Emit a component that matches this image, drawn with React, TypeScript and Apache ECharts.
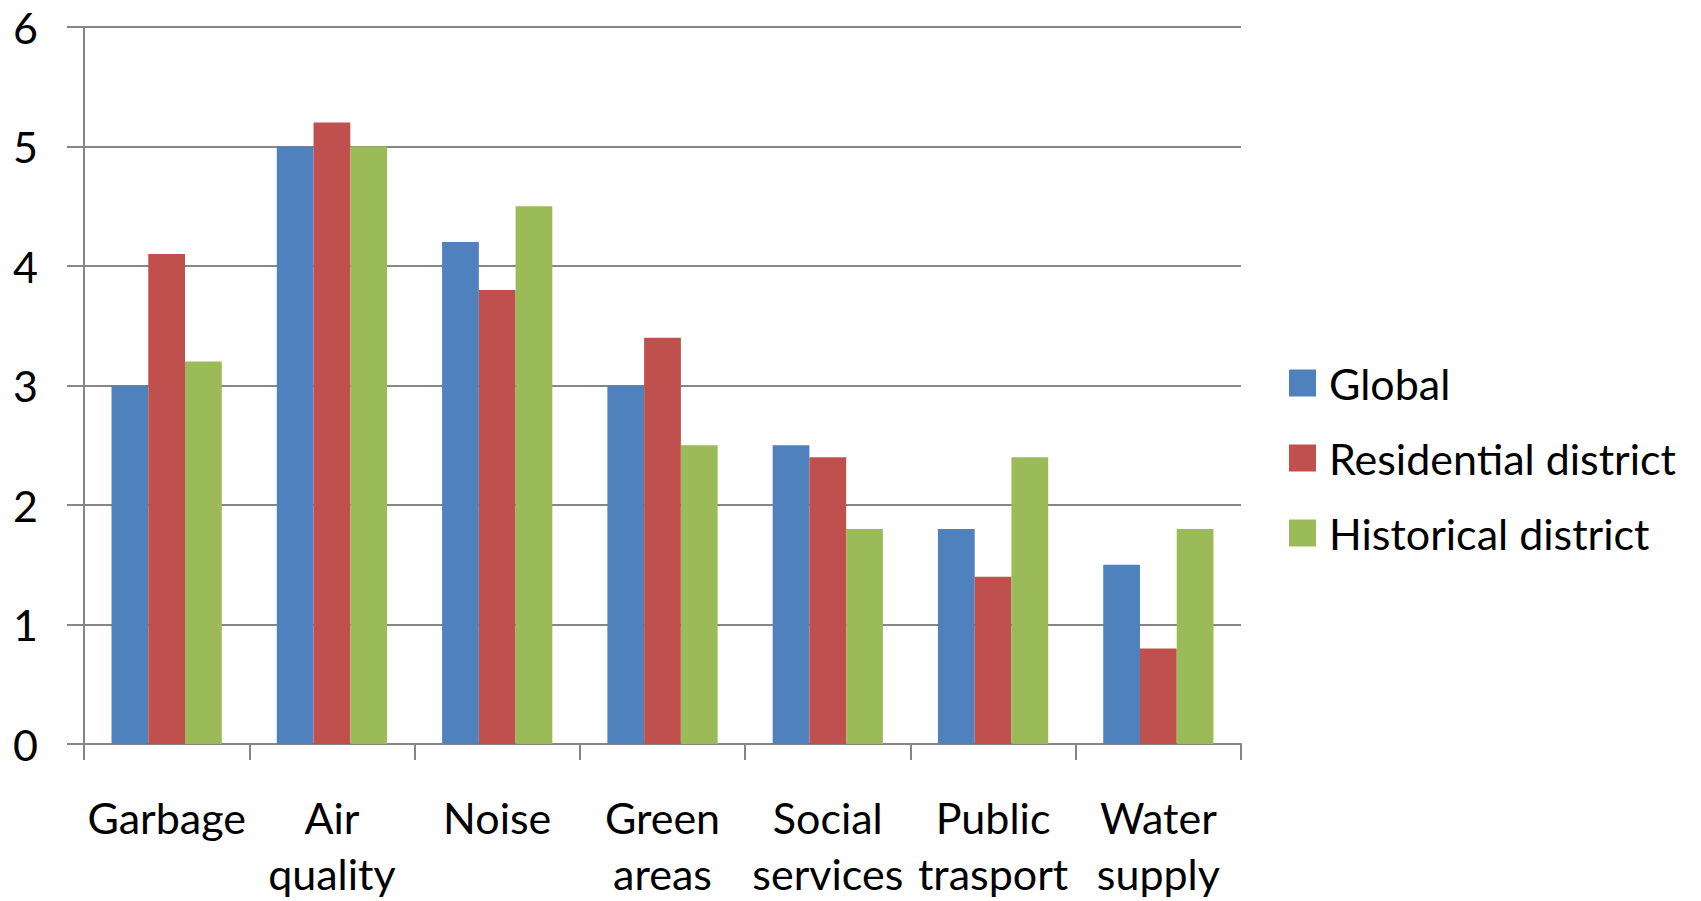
import React, { useEffect, useRef } from "react";
import * as echarts from "echarts";

// Categories and series values (scale 0–6)
const categories = [
  "Garbage",
  "Air\nquality",
  "Noise",
  "Green\nareas",
  "Social\nservices",
  "Public\ntrasport",
  "Water\nsupply",
];
const seriesNames = ["Global", "Residential district", "Historical district"];
const globalValues = [3, 5, 4.2, 3, 2.5, 1.8, 1.5];
const residentialValues = [4.1, 5.2, 3.8, 3.4, 2.4, 1.4, 0.8];
const historicalValues = [3.2, 5, 4.5, 2.5, 1.8, 2.4, 1.8];
const yTicks = { min: 0, max: 6, interval: 1 };

const colors = ["#4F81BD", "#C0504D", "#9BBB59"];
const FONT = "Lato, 'Open Sans', sans-serif";
const GRID_COLOR = "#868686";

export default function App() {
  const ref = useRef<HTMLDivElement>(null);

  useEffect(() => {
    if (!ref.current) return;
    const chart = echarts.init(ref.current, undefined, { renderer: "svg" });
    const values = [globalValues, residentialValues, historicalValues];
    chart.setOption({
      animation: false,
      backgroundColor: "#ffffff",
      textStyle: { fontFamily: FONT },
      grid: { left: 84, right: 460, top: 27, bottom: 157 },
      legend: {
        orient: "vertical",
        left: 1289,
        top: 359,
        padding: 0,
        itemWidth: 27,
        itemHeight: 27,
        itemGap: 27,
        icon: "rect",
        textStyle: {
          fontFamily: FONT,
          fontSize: 43,
          color: "#000",
          lineHeight: 48,
          padding: [0, 0, 0, 8],
        },
        data: seriesNames,
      },
      xAxis: {
        type: "category",
        data: categories,
        boundaryGap: true,
        axisLine: { show: true, lineStyle: { color: GRID_COLOR, width: 2 } },
        axisTick: {
          show: true,
          length: 16,
          alignWithLabel: false,
          lineStyle: { color: GRID_COLOR, width: 2 },
        },
        axisLabel: {
          interval: 0,
          margin: 45,
          fontFamily: FONT,
          fontSize: 43,
          lineHeight: 56,
          color: "#000",
        },
      },
      yAxis: {
        type: "value",
        min: yTicks.min,
        max: yTicks.max,
        interval: yTicks.interval,
        axisLine: { show: true, lineStyle: { color: GRID_COLOR, width: 2 } },
        axisTick: {
          show: true,
          length: 17,
          lineStyle: { color: GRID_COLOR, width: 2 },
        },
        splitLine: { show: true, lineStyle: { color: GRID_COLOR, width: 2 } },
        axisLabel: {
          margin: 46,
          fontFamily: FONT,
          fontSize: 43,
          color: "#000",
        },
      },
      series: seriesNames.map((name, i) => ({
        name,
        type: "bar",
        data: values[i],
        barGap: "0%",
        barCategoryGap: "33.3%",
        itemStyle: { color: colors[i] },
      })),
    });
    return () => chart.dispose();
  }, []);

  return (
    <div
      ref={ref}
      style={{ position: "fixed", left: 0, top: 0, width: 1701, height: 901 }}
    />
  );
}
